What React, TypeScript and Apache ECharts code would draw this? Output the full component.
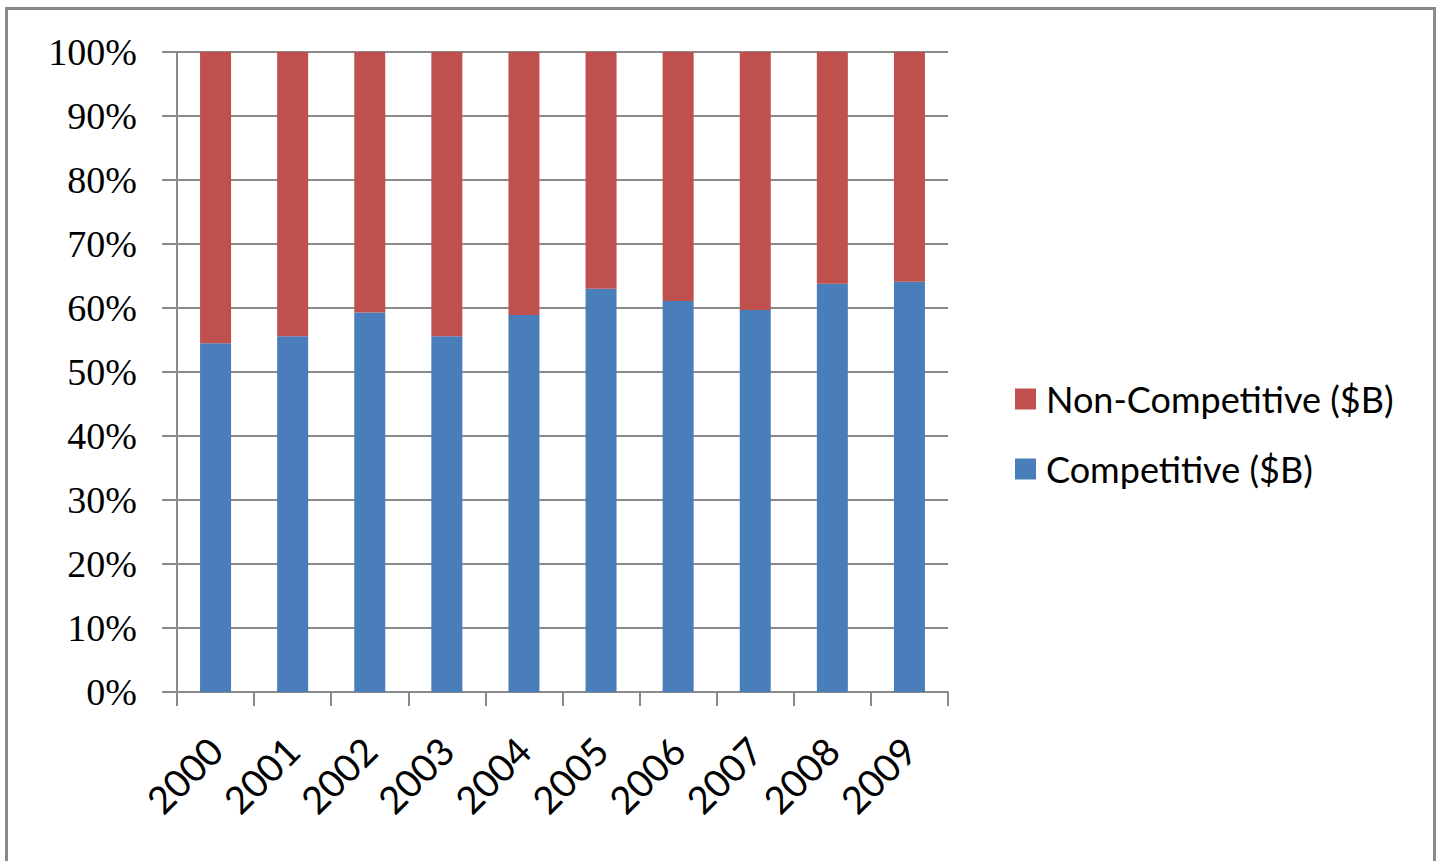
import React, { useEffect, useRef } from "react";
import * as echarts from "echarts";

const years = ["2000", "2001", "2002", "2003", "2004", "2005", "2006", "2007", "2008", "2009"];
const competitive = [54.5, 55.6, 59.3, 55.6, 58.9, 63.0, 61.1, 59.7, 63.8, 64.1];
const nonCompetitive = [45.5, 44.4, 40.7, 44.4, 41.1, 37.0, 38.9, 40.3, 36.2, 35.9];
const seriesNames = ["Non-Competitive ($B)", "Competitive ($B)"];
const colors = { competitive: "#4A7EBB", nonCompetitive: "#C0504D" };

export default function App() {
  const ref = useRef<HTMLDivElement>(null);
  useEffect(() => {
    document.body.style.margin = "0";
    const chart = echarts.init(ref.current!, null, { renderer: "svg" });
    const gray = "#8a8a8a";
    chart.setOption({
      animation: false,
      backgroundColor: "#ffffff",
      graphic: [
        {
          type: "rect",
          shape: { x: 6.5, y: 8.5, width: 1428, height: 900 },
          style: { fill: "none", stroke: gray, lineWidth: 3 },
          silent: true,
        },
      ],
      grid: { left: 177, right: 495, top: 52, bottom: 169, containLabel: false },
      legend: {
        orient: "vertical",
        left: 1010,
        top: 376,
        itemWidth: 21,
        itemHeight: 21,
        itemGap: 34,
        icon: "rect",
        data: seriesNames,
        textStyle: { fontFamily: "Lato", fontSize: 36, color: "#000", padding: [0, 0, 0, 5] },
      },
      xAxis: {
        type: "category",
        data: years,
        axisLine: { lineStyle: { color: gray, width: 2 } },
        axisTick: { show: true, length: 14, lineStyle: { color: gray, width: 2 } },
        axisLabel: {
          rotate: 45,
          margin: 52,
          fontFamily: "Lato",
          fontSize: 38,
          color: "#000",
          interval: 0,
        },
        splitLine: { show: false },
      },
      yAxis: {
        type: "value",
        min: 0,
        max: 100,
        interval: 10,
        axisLine: { show: true, lineStyle: { color: gray, width: 2 } },
        axisTick: { show: true, length: 15, lineStyle: { color: gray, width: 2 } },
        axisLabel: {
          margin: 40,
          formatter: "{value}%",
          fontFamily: "Liberation Serif",
          fontSize: 38,
          color: "#000",
        },
        splitLine: { show: true, lineStyle: { color: gray, width: 2 } },
      },
      series: [
        {
          name: seriesNames[1],
          type: "bar",
          stack: "total",
          data: competitive,
          barWidth: 31,
          itemStyle: { color: colors.competitive },
        },
        {
          name: seriesNames[0],
          type: "bar",
          stack: "total",
          data: nonCompetitive,
          barWidth: 31,
          itemStyle: { color: colors.nonCompetitive },
        },
      ],
    });
    return () => chart.dispose();
  }, []);
  return (
    <div
      ref={ref}
      style={{ position: "absolute", left: 0, top: 0, width: 1443, height: 861 }}
    />
  );
}
